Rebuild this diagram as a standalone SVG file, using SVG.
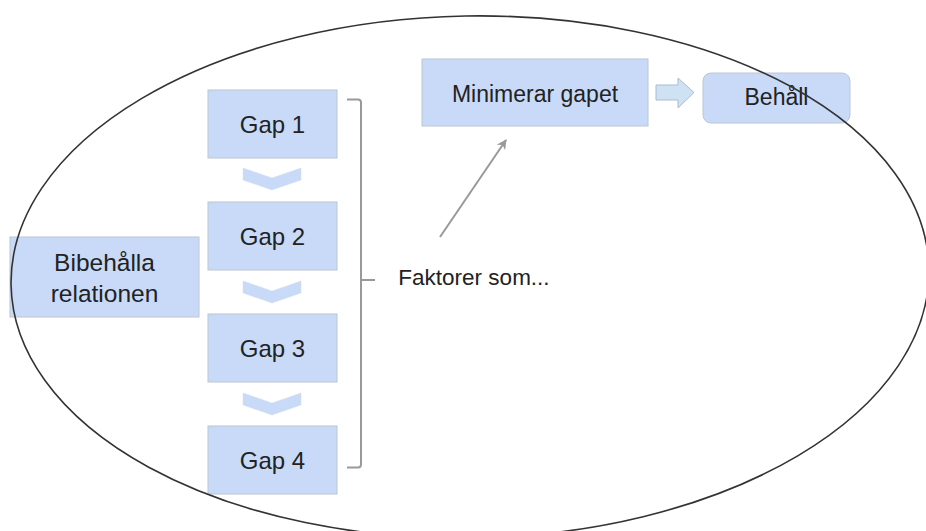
<svg xmlns="http://www.w3.org/2000/svg" width="926" height="531" viewBox="0 0 926 531">
  <style>
    .box { fill: #c9daf8; stroke: #bcc6d4; stroke-width: 1; }
    .t { font-family: "Liberation Sans", Arial, sans-serif; fill: #222; text-anchor: middle; }
    .chev { fill: #c9daf8; stroke: #d3deef; stroke-width: 0.5; }
    .gray { fill: none; stroke: #999; stroke-width: 2; }
  </style>
  <defs>
    <marker id="ah" viewBox="0 0 10 10" refX="9" refY="5" markerWidth="5" markerHeight="5" orient="auto" markerUnits="strokeWidth">
      <path d="M0,0 L10,5 L0,10 L3,5 Z" fill="#999"/>
    </marker>
  </defs>
  <rect width="926" height="531" fill="#fff"/>

  <g id="connectors">
    <path class="chev" d="M243,168 L272,178 L301,168 L301,180 L272,190 L243,180 Z"/>
    <path class="chev" d="M243,281 L272,291 L301,281 L301,293 L272,303 L243,293 Z"/>
    <path class="chev" d="M243,393 L272,403 L301,393 L301,405 L272,415 L243,405 Z"/>
    <path class="gray" d="M347,99.5 L358,99.5 Q361,99.5 361,102.5 L361,464.5 Q361,467.5 358,467.5 L347,467.5 M361,280 L375,280"/>
    <line class="gray" x1="440" y1="237" x2="506" y2="140" marker-end="url(#ah)"/>
    <path d="M656,85 L678,85 L678,78 L694,92.5 L678,108 L678,100 L656,100 Z" fill="#cfe2f3" stroke="#a9bccf" stroke-width="1"/>
  </g>

  <g id="gap1"><rect class="box" x="208" y="90" width="129" height="68"/><text class="t" x="272.5" y="133" font-size="24">Gap 1</text></g>
  <g id="gap2"><rect class="box" x="208" y="202" width="129" height="68"/><text class="t" x="272.5" y="245" font-size="24">Gap 2</text></g>
  <g id="gap3"><rect class="box" x="208" y="314" width="129" height="68"/><text class="t" x="272.5" y="357" font-size="24">Gap 3</text></g>
  <g id="gap4"><rect class="box" x="208" y="426" width="129" height="68"/><text class="t" x="272.5" y="469" font-size="24">Gap 4</text></g>

  <g id="bibehalla">
    <rect class="box" x="10" y="237" width="189" height="80"/>
    <text class="t" x="104.5" y="271" font-size="24.5">Bibehålla</text>
    <text class="t" x="104.5" y="302" font-size="24.5">relationen</text>
  </g>

  <g id="minimerar">
    <rect class="box" x="422" y="59" width="226" height="67"/>
    <text class="t" x="535" y="102" font-size="23">Minimerar gapet</text>
  </g>

  <g id="behall">
    <rect class="box" x="703" y="73" width="147" height="50" rx="8"/>
    <text class="t" x="776.5" y="105" font-size="23">Behåll</text>
  </g>

  <g id="faktorer">
    <text class="t" x="474" y="285" font-size="22.5">Faktorer som...</text>
  </g>

  <g id="ellipse">
    <ellipse cx="470" cy="277" rx="459" ry="261" transform="rotate(-1 470 277)" fill="none" stroke="#333" stroke-width="1.6"/>
  </g>
</svg>
